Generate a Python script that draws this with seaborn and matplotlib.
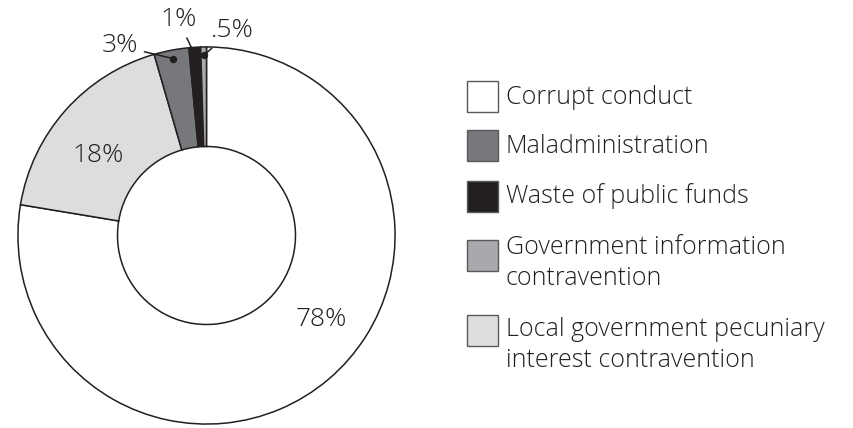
import numpy as np
import matplotlib
matplotlib.use("Agg")
import matplotlib.pyplot as plt
from matplotlib.patches import Rectangle
import seaborn as sns

# Share of matters by category (percent), clockwise from 12 o'clock
categories = [
    "Corrupt conduct",
    "Local government pecuniary\ninterest contravention",
    "Maladministration",
    "Waste of public funds",
    "Government information\ncontravention",
]
values = [78, 18, 3, 1, 0.5]
value_labels = ["78%", "18%", "3%", "1%", ".5%"]
colors = ["#ffffff", "#dcddde", "#77787b", "#231f20", "#a7a9ac"]

# Legend order
legend_order = [0, 2, 3, 4, 1]

sns.set_theme(style="white")
plt.rcParams["font.family"] = ["Open Sans", "DejaVu Sans"]

W, H = 854, 428
fig = plt.figure(figsize=(W / 100, H / 100), dpi=100)

# Donut axes: square, centred at (206.5, 235.5) px with outer radius 189.5 px
cx, cy, R = 206.5, 235.5, 189.5
ax = fig.add_axes([(cx - R) / W, (H - cy - R) / H, 2 * R / W, 2 * R / H])
ax.axis("off")

edge = "#231f20"
wedges, _ = ax.pie(
    values,
    colors=colors,
    startangle=90,
    counterclock=False,
    radius=1.0,
    wedgeprops=dict(width=0.528, edgecolor=edge, linewidth=1.1),
)
ax.set_xlim(-1.005, 1.005)
ax.set_ylim(-1.005, 1.005)

txt_kw = dict(fontsize=19, color="#231f20", fontweight="light",
              ha="center", va="center")

# Large segments: labels inside the ring
ax.text(0.61, -0.446, value_labels[0], **txt_kw)
ax.text(-0.573, 0.425, value_labels[1], **txt_kw)

# Small segments: labels outside with leader lines to a dot on the wedge
outside_text = {2: (-0.458, 1.005), 3: (-0.150, 1.145), 4: (0.135, 1.087)}
for i, (tx, ty) in outside_text.items():
    w = wedges[i]
    mid = np.deg2rad((w.theta1 + w.theta2) / 2)
    r = 0.955
    px, py = r * np.cos(mid), r * np.sin(mid)
    ax.annotate(
        value_labels[i], xy=(px, py), xytext=(tx, ty),
        textcoords="data", annotation_clip=False,
        arrowprops=dict(arrowstyle="-", color=edge, lw=1.1,
                        shrinkA=2, shrinkB=0),
        **txt_kw,
    )
    ax.plot(px, py, "o", color=edge, markersize=4.3,
            clip_on=False, zorder=5)

# Legend: swatches and labels
sw = 30.5
tx0 = 506
rows = [
    (81, [104]),
    (130, [153]),
    (181, [203]),
    (240, [254, 285]),
    (315, [336, 367]),
]
for k, (top, baselines) in zip(legend_order, rows):
    fig.patches.append(Rectangle(
        (467 / W, (H - top - sw) / H), sw / W, sw / H,
        transform=fig.transFigure, facecolor=colors[k],
        edgecolor="#58595b", linewidth=1.0))
    for line, base in zip(categories[k].split("\n"), baselines):
        fig.text(tx0 / W, (H - base) / H, line, fontsize=18,
                 color="#231f20", fontweight="light",
                 ha="left", va="baseline")

fig.savefig("out.png", dpi=100)
